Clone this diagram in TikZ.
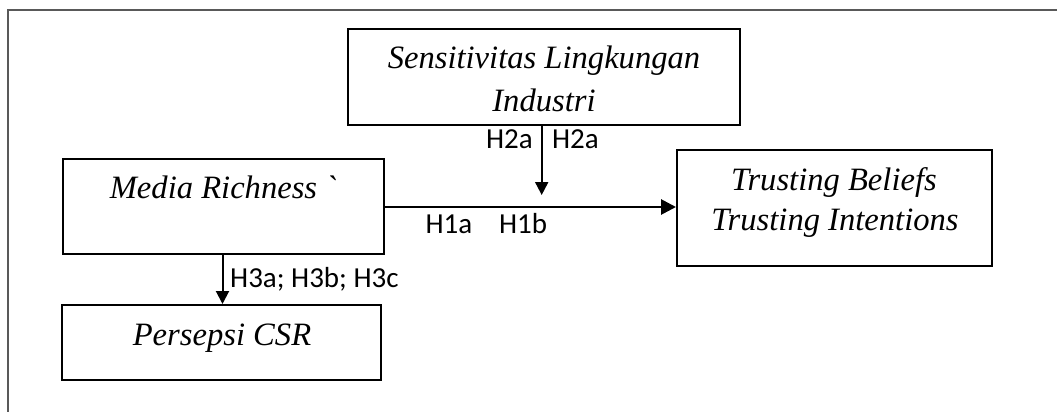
\documentclass[tikz,border=0pt]{standalone}
\usepackage{fontspec}
\setmainfont{Liberation Serif}
\newfontfamily\lblfont{Carlito}
\usetikzlibrary{arrows.meta}
\begin{document}
\begin{tikzpicture}[x=1pt,y=-1pt,
  box/.style={draw=black,line width=2pt,minimum width=#1,inner sep=0pt},
  boxtext/.style={anchor=base,inner sep=0pt,font=\fontsize{32.6}{40}\selectfont\itshape},
  lbl/.style={anchor=base,inner sep=0pt,font=\fontsize{29}{32}\selectfont\lblfont},
  arr/.style={line width=2pt,-{Triangle[length=13pt,width=13pt]}},
  bigarr/.style={line width=2.8pt,-{Triangle[length=15pt,width=15pt]}}]
\useasboundingbox (0,0) rectangle (1057,412);
\draw[line width=1.6pt,color=black!65] (8,412) -- (8,10) -- (1057,10);
% boxes
\node[box=392pt,minimum height=96pt] (sens) at (544,77) {};
\node[box=321pt,minimum height=95pt] (media) at (223.5,206.5) {};
\node[box=315pt,minimum height=116pt] (trust) at (834.5,208) {};
\node[box=319pt,minimum height=75pt] (csr) at (221.5,342.5) {};
% box texts
\node[boxtext] (t1) at (544,68) {Sensitivitas Lingkungan};
\node[boxtext] (t2) at (544,111) {Industri};
\node[boxtext] (t3) at (223,198) {Media Richness \textasciigrave};
\node[boxtext] (t4) at (834,190) {Trusting Beliefs};
\node[boxtext] (t5) at (835,230) {Trusting Intentions};
\node[boxtext] (t6) at (222,345) {Persepsi CSR};
% connectors
\coordinate (tip) at (541.7,195);
\coordinate (h) at (0,207);
\coordinate (v) at (222.5,0);
\draw[bigarr] (media.east |- h) -- (trust.west |- h);
\draw[arr] (sens.south -| tip) -- (tip);
\draw[arr] (media.south -| v) -- (csr.north -| v);
% labels
\node[lbl] (l1) at (509.5,148) {H2a};
\node[lbl] (l2) at (575.5,148) {H2a};
\node[lbl] (l3) at (449,233) {H1a};
\node[lbl] (l4) at (523,233) {H1b};
\node[lbl,anchor=base west] (l5) at (230,287) {H3a; H3b; H3c};
\end{tikzpicture}
\end{document}
